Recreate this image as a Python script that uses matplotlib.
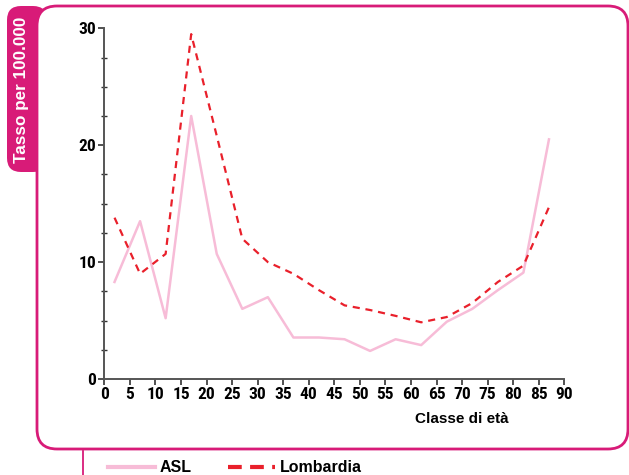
import matplotlib
matplotlib.use("Agg")
import matplotlib.pyplot as plt
from matplotlib.patches import FancyBboxPatch
from matplotlib.lines import Line2D
from matplotlib.transforms import IdentityTransform
from matplotlib.ticker import MultipleLocator
from matplotlib import font_manager

# ---- data ----
eta = [2, 7, 12, 17, 22, 27, 32, 37, 42, 47, 52, 57, 62, 67, 72, 77, 82, 87]
asl = [8.3, 13.5, 5.2, 22.5, 10.7, 6.0, 7.0, 3.55, 3.55, 3.4, 2.4, 3.4, 2.9, 4.9, 6.0, 7.6, 9.1, 20.5]
lombardia = [13.8, 9.0, 10.7, 29.5, 20.8, 12.0, 10.0, 9.0, 7.6, 6.3, 5.9, 5.4, 4.85, 5.3, 6.5, 8.3, 9.7, 14.7]
xticks = list(range(0, 95, 5))
yticks = [0, 10, 20, 30]
serie = ["ASL", "Lombardia"]

W, H = 629, 475
MAG = "#d81b78"
PINK = "#f7bcd7"
RED = "#e9202b"

names = {f.name for f in font_manager.fontManager.ttflist}
cond = None
for cand in ["Liberation Sans Narrow", "DejaVu Sans Condensed", "Roboto Condensed", "Open Sans Condensed"]:
    if cand in names:
        cond = cand
        break

fig = plt.figure(figsize=(W / 100, H / 100), dpi=100)
fig.patch.set_facecolor("white")

I = IdentityTransform()
# tab on the left
tab = FancyBboxPatch((7, H - 172), 40, 166, boxstyle="round,pad=0,rounding_size=14",
                     transform=I, facecolor=MAG, edgecolor="none", zorder=-3)
fig.add_artist(tab)
# main frame
frame = FancyBboxPatch((37, H - 449), 628 - 37, 449 - 6, boxstyle="round,pad=0,rounding_size=20",
                       transform=I, facecolor="white", edgecolor=MAG, linewidth=2.0, zorder=-2)
fig.add_artist(frame)
fig.add_artist(Line2D([83, 83], [H - 451, 0], transform=I, color=MAG, lw=1.3, zorder=-1))

fig.text(22 / W, 1 - 90 / H, "Tasso per 100.000", rotation=90, color="white", fontsize=12.3,
         fontweight="bold", family=["Liberation Sans", "DejaVu Sans"], ha="center", va="center")

ax = fig.add_axes([104.3 / W, 96 / H, 460 / W, 350.7 / H])
ax.set_facecolor("none")
ls_lomb = (0, (3.2, 2.6))
ax.plot(eta, asl, color=PINK, lw=1.8, label=serie[0])
ax.plot(eta, lombardia, color=RED, lw=1.6, ls=ls_lomb, label=serie[1])
ax.set_xlim(0, 90)
ax.set_ylim(0, 30)
ax.set_xticks(xticks)
ax.set_yticks(yticks)
ax.yaxis.set_minor_locator(MultipleLocator(2.5))
for s in ["top", "right"]:
    ax.spines[s].set_visible(False)
for s in ["left", "bottom"]:
    ax.spines[s].set_color("#555555")
    ax.spines[s].set_linewidth(1.4)
ax.tick_params(axis="both", which="major", direction="out", length=4, width=1.2, color="#333333",
               pad=2, labelsize=12.5 if cond else 10)
ax.tick_params(axis="y", which="minor", direction="inout", length=4, width=1.0, color="#333333")
for lab in ax.get_xticklabels() + ax.get_yticklabels():
    if cond:
        lab.set_family([cond, "DejaVu Sans"])
    else:
        lab.set_family(["Liberation Sans", "DejaVu Sans"])
    lab.set_fontweight("bold")

fig.text(509 / W, 1 - 419 / H, "Classe di età", ha="right", va="center", fontsize=11,
         fontweight="bold", family=["Liberation Sans", "DejaVu Sans"])

# legend, drawn by hand
ly = H - 467
fig.add_artist(Line2D([108, 155], [ly, ly], transform=I, color=PINK, lw=3.0))
fig.text(160 / W, ly / H, serie[0], ha="left", va="center", fontsize=11.5, fontweight="bold",
         family=["Liberation Sans", "DejaVu Sans"])
fig.add_artist(Line2D([228, 275], [ly, ly], transform=I, color=RED, lw=3.0, ls=(0, (3.3, 2.0))))
fig.text(280 / W, ly / H, serie[1], ha="left", va="center", fontsize=11.5, fontweight="bold",
         family=["Liberation Sans", "DejaVu Sans"])

fig.savefig("out.png", dpi=100)
